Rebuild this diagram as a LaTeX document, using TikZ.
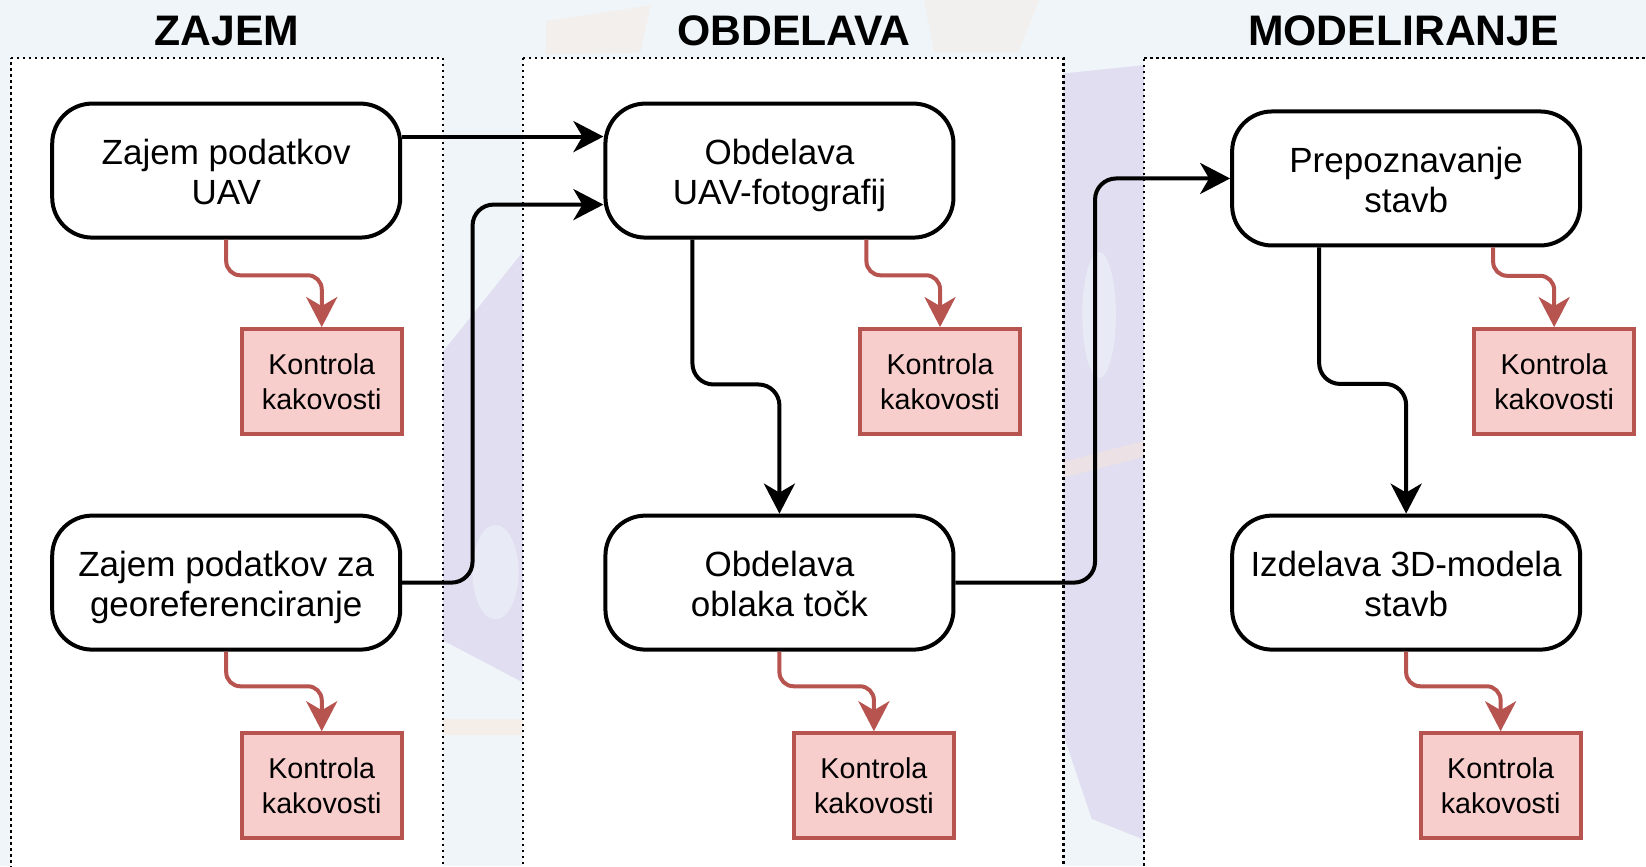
\documentclass[tikz,border=0pt]{standalone}
\usepackage{fontspec}
\setmainfont{Liberation Sans}
\usetikzlibrary{arrows.meta}

\definecolor{bgblue}{HTML}{EFF5F9}
\definecolor{qcfill}{HTML}{F8CECC}
\definecolor{qcline}{HTML}{B85450}
\definecolor{lavender}{HTML}{E0DEF0}
\definecolor{peach}{HTML}{FBE6D8}

% two-line step label with fixed top height and bottom depth
\newcommand{\steplabel}[2]{\rule{0pt}{36pt}#1\\#2\vphantom{g}}

\begin{document}
\begin{tikzpicture}[x=1.0497pt,y=-1.0497pt,
  stage/.style={draw=black, line width=4pt, fill=white, rounded corners=40pt,
    minimum width=348pt, minimum height=134pt, align=center, inner sep=0pt,
    font=\fontsize{35}{40}\selectfont},
  qc/.style={draw=qcline, line width=4pt, fill=qcfill, minimum width=160pt,
    minimum height=105pt, align=center, inner sep=0pt,
    font=\fontsize{28.7}{34.6}\selectfont},
  flow/.style={draw=black, line width=4pt, rounded corners=21pt,
    -{Stealth[length=30pt,width=31pt,inset=9pt]}},
  check/.style={draw=qcline, line width=4pt, rounded corners=14pt,
    -{Stealth[length=30pt,width=31pt,inset=9pt]}},
  panel/.style={draw=black, line width=2.4pt, dash pattern=on 2.4pt off 3.6pt, fill=white},
  heading/.style={font=\fontsize{42.7}{48}\selectfont\bfseries, anchor=base}
]
% canvas
\useasboundingbox (0,0) rectangle (1568,825);
\fill[bgblue] (0,0) rectangle (1568,825);

% faint logo shapes showing between the panels
\fill[lavender] (422,335) -- (498,240) -- (498,650) -- (422,610) -- cycle;
\fill[lavender!50!bgblue] (472,545) ellipse (22 and 45);
\fill[peach,opacity=0.5] (422,685) rectangle (498,700);
\fill[lavender] (1013,70) -- (1090,62) -- (1090,800) -- (1040,780) -- (1013,700) -- cycle;
\fill[lavender!45!bgblue] (1047,300) ellipse (16 and 60);
\fill[peach,opacity=0.45] (1013,440) -- (1090,420) -- (1090,435) -- (1013,455) -- cycle;
\fill[peach,opacity=0.35] (520,20) -- (620,5) -- (610,50) -- (520,52) -- cycle;
\fill[peach,opacity=0.3] (880,0) -- (990,0) -- (970,50) -- (890,50) -- cycle;

% stage panels
\draw[panel] (10.5,55) -- (422,55) -- (422,830) -- (10.5,830) -- cycle;
\draw[panel] (498,55) -- (1013,55) -- (1013,830) -- (498,830) -- cycle;
\draw[panel] (1090,55) -- (1580,55) -- (1580,830) -- (1090,830) -- cycle;

% panel headings
\node[heading] (h1) at (216,43) {ZAJEM};
\node[heading] (h2) at (756.5,43) {OBDELAVA};
\node[heading] (h3) at (1337,43) {MODELIRANJE};

% process steps
\node[stage] (A) at (215.5,162.5) {\steplabel{Zajem podatkov}{UAV}};
\node[stage] (B) at (215.5,555) {\steplabel{Zajem podatkov za}{georeferenciranje}};
\node[stage] (C) at (742.5,162.5) {\steplabel{Obdelava}{UAV-fotografij}};
\node[stage] (D) at (742.5,555) {\steplabel{Obdelava}{oblaka točk}};
\node[stage] (E) at (1339.5,170) {\steplabel{Prepoznavanje}{stavb}};
\node[stage] (F) at (1339.5,555) {\steplabel{Izdelava 3D-modela}{stavb}};

% quality checks
\node[qc] (QA) at (306.5,363.5) {Kontrola\\kakovosti};
\node[qc] (QB) at (306.5,748.5) {Kontrola\\kakovosti};
\node[qc] (QC) at (895.5,363.5) {Kontrola\\kakovosti};
\node[qc] (QD) at (832.5,748.5) {Kontrola\\kakovosti};
\node[qc] (QE) at (1480.5,363.5) {Kontrola\\kakovosti};
\node[qc] (QF) at (1429.5,748.5) {Kontrola\\kakovosti};

% main flow
\draw[flow] ([yshift=34pt]A.east) -- ([yshift=34pt]C.west);
\draw[flow] (B.east) -- ++(67,0) |- ([yshift=-34pt]C.west);
\draw[flow] ([xshift=-87pt]C.south) -- ++(0,138) -| (D.north);
\draw[flow] (D.east) -- ++(133,0) |- (E.west);
\draw[flow] ([xshift=-87pt]E.south) -- ++(0,130) -| (F.north);

% quality check links
\draw[check] (A.south) -- ++(0,34) -| (QA.north);
\draw[check] (B.south) -- ++(0,33) -| (QB.north);
\draw[check] ([xshift=87pt]C.south) -- ++(0,34) -| (QC.north);
\draw[check] (D.south) -- ++(0,33) -| (QD.north);
\draw[check] ([xshift=87pt]E.south) -- ++(0,27) -| (QE.north);
\draw[check] (F.south) -- ++(0,33) -| (QF.north);
\end{tikzpicture}
\end{document}
